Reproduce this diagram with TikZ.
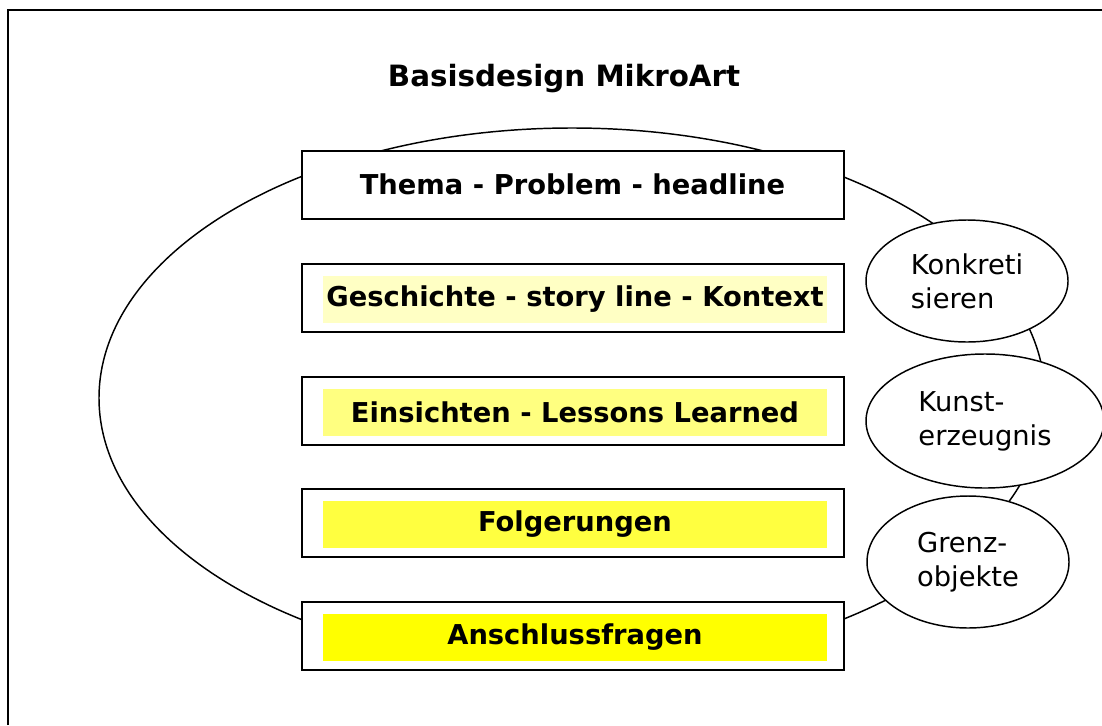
\documentclass[tikz,border=0pt]{standalone}
\usepackage{fontspec}
\setmainfont{DejaVu Sans}
\usepackage{xcolor}
\usetikzlibrary{shapes.geometric}
\usetikzlibrary{positioning}
\definecolor{hlpale}{RGB}{255,255,196}
\definecolor{hllight}{RGB}{255,255,128}
\definecolor{hlmid}{RGB}{255,255,64}
\definecolor{hlfull}{RGB}{255,255,0}

\tikzset{
  stage/.style={draw, line width=1.5pt, fill=white, inner sep=0pt,
    minimum width=406.5pt, minimum height=51pt},
  stagetext/.style={inner sep=0pt, minimum width=378pt, minimum height=35.25pt,
    font=\bfseries\fontsize{20.5}{24}\selectfont},
  aspect/.style={draw, ellipse, line width=1.1pt, fill=white, inner sep=0pt,
    align=left, font=\fontsize{20.5}{25.5}\selectfont}
}

\begin{document}
\begin{tikzpicture}[x=0.75pt, y=-0.75pt]
\useasboundingbox (0,0) rectangle (1102,725);

% frame, cut at right and bottom
\draw[line width=1.5pt] (8,725) -- (8,10) -- (1102,10);

\node[font=\bfseries\fontsize{22}{26}\selectfont] (title) at (564,79) {Basisdesign MikroArt};

% outer loop
\draw[line width=1.1pt] (572,398) ellipse [x radius=473, y radius=270];

% stages
\node[stage] (thema) at (572.5,184.5) {};
\node[stagetext] (thematxt) at (thema.center) {Thema - Problem - headline};

\foreach \name/\txt/\col/\yy in {
  geschichte/Geschichte - story line - Kontext/hlpale/297.5,
  einsichten/Einsichten - Lessons Learned/hllight/410.5,
  folgerungen/Folgerungen/hlmid/523,
  anschluss/Anschlussfragen/hlfull/635.5}{
  \node[stage] (\name) at (572.5,\yy) {};
  \node[stagetext, fill=\col] (\name txt) at (575,\yy+1.5) {\txt};
}

% side aspects
\node[aspect, minimum width=151.5pt, minimum height=91.5pt] (konkret) at (967,281)
  {Konkreti\\sieren};
\node[aspect, minimum width=178.5pt, minimum height=100.5pt] (kunst) at (985,421)
  {Kunst-\\erzeugnis};
\node[aspect, minimum width=151.5pt, minimum height=99pt] (grenz) at (968,562)
  {Grenz-\\objekte};

\end{tikzpicture}
\end{document}
